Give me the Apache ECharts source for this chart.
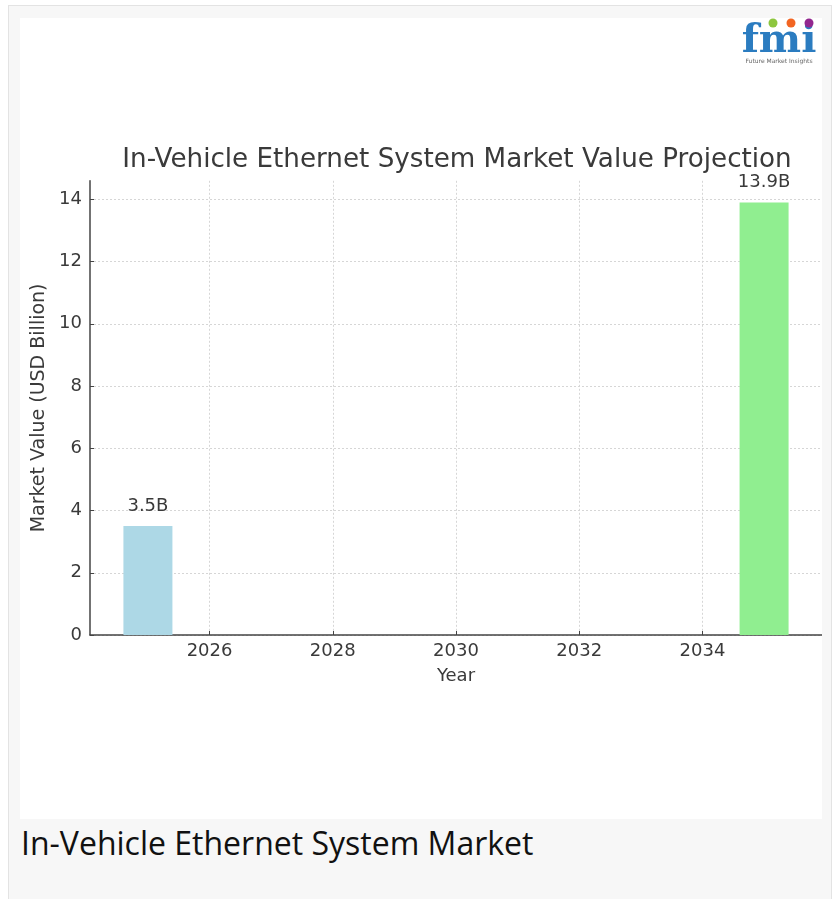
<!DOCTYPE html>
<html>
<head>
<meta charset="utf-8">
<script src="https://cdn.jsdelivr.net/npm/echarts@6/dist/echarts.min.js"></script>
<style>
  html, body { margin: 0; padding: 0; width: 838px; height: 899px; overflow: hidden; background: #ffffff; }
  #frame { position: absolute; left: 8px; top: 5px; width: 824px; height: 900px; background: #f7f7f7; border: 1px solid #e3e3e3; box-sizing: border-box; }
  #chart { position: absolute; left: 20px; top: 18px; width: 802px; height: 801px; background: #ffffff; overflow: hidden; }
  #caption { position: absolute; left: 21px; top: 821px; font-family: "Open Sans", sans-serif; font-size: 32px; line-height: normal; color: #111; white-space: nowrap; }
</style>
</head>
<body>
<div id="frame"></div>
<div id="chart"></div>
<div id="caption">In-Vehicle Ethernet System Market</div>
<script>
// ---- data ----
const years = [2025, 2035];
const values = [3.5, 13.9];
const barLabels = ['3.5B', '13.9B'];
const xTicks = [2026, 2028, 2030, 2032, 2034];
const yTicks = [0, 2, 4, 6, 8, 10, 12, 14];
const titleText = 'In-Vehicle Ethernet System Market Value Projection';
const xName = 'Year';
const yName = 'Market Value (USD Billion)';

// ---- styles ----
const barColors = ['#add8e6', '#90ee90'];
const txt = '#3a3a3a';
const axisCol = '#444444';
const gridCol = '#d6d6d6';
const font = 'DejaVu Sans';

const chart = echarts.init(document.getElementById('chart'), null, { renderer: 'canvas' });

const seriesData = years.map((y, i) => ({
  value: [y, values[i]],
  itemStyle: { color: barColors[i] },
  label: { formatter: barLabels[i] }
}));

chart.setOption({
  animation: false,
  backgroundColor: '#ffffff',
  grid: { left: 70, top: 162.8, width: 734, height: 454.2, containLabel: false },
  graphic: [
    { type: 'text', position: [437, 142], style: { text: titleText, fill: txt, font: '26.2px "DejaVu Sans"', textAlign: 'center', textVerticalAlign: 'middle' } },
    { type: 'text', position: [759, 24], style: { text: 'fmi', fill: '#2b7cc0', font: 'bold 40px "DejaVu Serif"', textAlign: 'center', textVerticalAlign: 'middle' } },
    { type: 'circle', shape: { cx: 753, cy: 5, r: 4.5 }, style: { fill: '#8dc63f' } },
    { type: 'circle', shape: { cx: 771, cy: 5, r: 4.5 }, style: { fill: '#f26522' } },
    { type: 'circle', shape: { cx: 789, cy: 5, r: 4.5 }, style: { fill: '#92278f' } },
    { type: 'text', position: [759, 43], style: { text: 'Future Market Insights', fill: '#666', font: '6px "DejaVu Sans"', textAlign: 'center', textVerticalAlign: 'middle' } }
  ],
  xAxis: {
    type: 'value',
    min: 2024.06,
    max: 2035.94,
    name: xName,
    nameLocation: 'middle',
    nameGap: 32,
    nameTextStyle: { color: txt, fontFamily: font, fontSize: 18 },
    axisLine: { show: true, lineStyle: { color: axisCol, width: 1.5 } },
    axisTick: { show: true, inside: true, length: 4, customValues: xTicks, lineStyle: { color: axisCol } },
    axisLabel: { customValues: xTicks, color: txt, fontFamily: font, fontSize: 18, margin: 7, formatter: v => String(v) },
    splitLine: { show: true, lineStyle: { color: gridCol, type: [2, 2], width: 1 } }
  },
  yAxis: {
    type: 'value',
    min: 0,
    max: 14.595,
    name: yName,
    nameLocation: 'middle',
    nameGap: 36,
    nameTextStyle: { color: txt, fontFamily: font, fontSize: 19 },
    axisLine: { show: true, lineStyle: { color: axisCol, width: 1.5 } },
    axisTick: { show: true, inside: true, length: 4, customValues: yTicks, lineStyle: { color: axisCol } },
    axisLabel: { customValues: yTicks, color: txt, fontFamily: font, fontSize: 18, margin: 8 },
    splitLine: { show: true, lineStyle: { color: gridCol, type: [2, 2], width: 1 } }
  },
  series: [{
    type: 'bar',
    data: seriesData,
    barWidth: 49,
    label: { show: true, position: 'top', distance: 11, color: txt, fontFamily: font, fontSize: 18 }
  }]
});
</script>
</body>
</html>
